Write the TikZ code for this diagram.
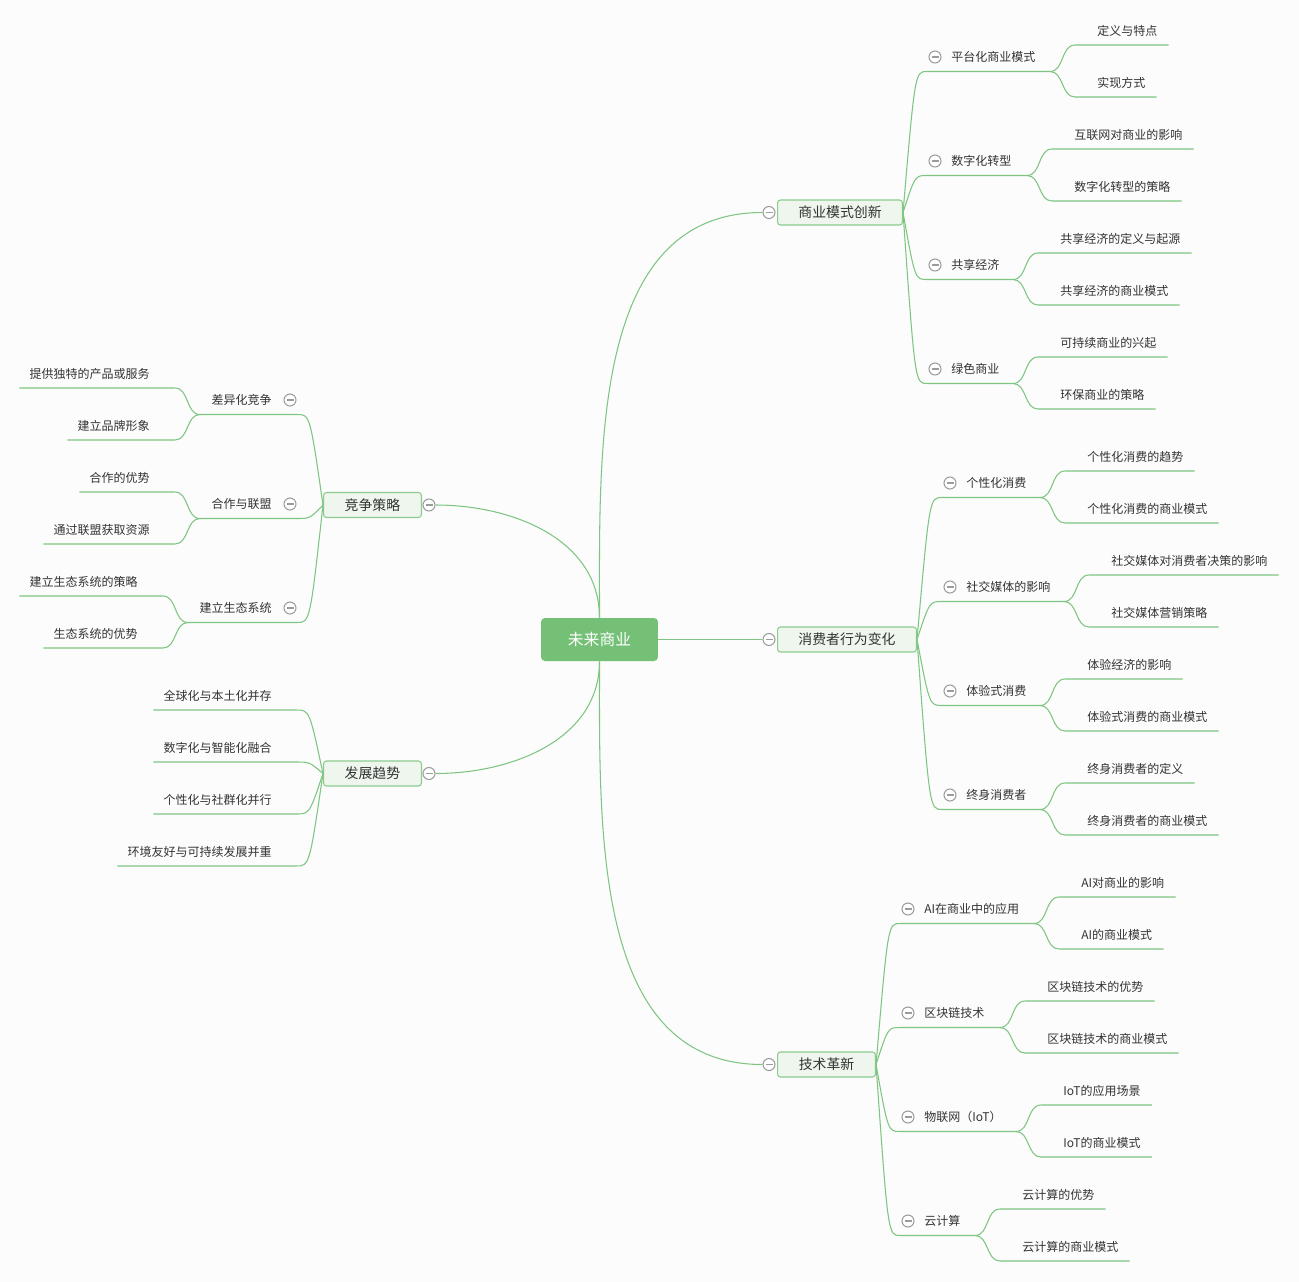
\documentclass[tikz,border=0pt]{standalone}
\usepackage{fontspec}
\setmainfont{Noto Sans CJK SC}
\usetikzlibrary{calc}
\definecolor{bg}{HTML}{FCFCFC}
\definecolor{lg}{HTML}{7DC580}
\definecolor{rootg}{HTML}{74C077}
\definecolor{boxf}{HTML}{EEF6EE}
\definecolor{boxd}{HTML}{8BCB8D}
\definecolor{tc}{HTML}{333333}
\definecolor{tog}{HTML}{9B9B9B}
\tikzset{
  conn/.style={draw=lg, line width=0.6pt},
  brace/.style={to path={.. controls ($(\tikztotarget)!0.5!(\tikztostart |- \tikztotarget)$) .. (\tikztotarget) \tikztonodes}},
  rootbox/.style={fill=rootg, rounded corners=0.08cm, minimum width=2.34cm, minimum height=0.86cm, text=white, font=\fontsize{9}{11}\selectfont},
  branchbox/.style={draw=boxd, fill=boxf, rounded corners=0.06cm, minimum height=0.5cm, inner xsep=0pt, line width=0.6pt, text=tc, font=\fontsize{7.9}{9}\selectfont},
  subtext/.style={inner sep=0pt, text=tc, font=\fontsize{6.83}{8}\selectfont},
  leaf/.style={subtext},
  toggle/.style={circle, draw=tog, fill=white, minimum size=0.24cm, inner sep=0pt, line width=0.6pt,
    path picture={\draw[tog, line width=0.6pt] ([xshift=0.05cm]path picture bounding box.west) -- ([xshift=-0.05cm]path picture bounding box.east);}},
}
\newcommand\SubR[6]{%
  \node[toggle] (#1t) at (#3,#4) {};
  \node[subtext,anchor=west] (#1) at (#3+16,#4) {#6};
  \coordinate (#1a) at (#3-8,#4+14.5);
  \coordinate (#1f) at (#5,#4+14.5);
  \draw[conn] (#2) to[brace] (#1a) -- (#1f);
}
\newcommand\KidR[5]{%
  \node[leaf,anchor=west] (#1) at (#3+47,#4) {#5};
  \coordinate (#1s) at (#3+25,#4+14);
  \draw[conn] (#2) to[out=0,in=180] (#1s) -- (#1.east |- #1s) -- ++(11,0);
}
\newcommand\SubL[6]{%
  \node[toggle] (#1t) at (#3,#4) {};
  \node[subtext,anchor=east] (#1) at (#3-18,#4) {#6};
  \coordinate (#1a) at (#3+7,#4+14.5);
  \coordinate (#1f) at (#5,#4+14.5);
  \draw[conn] (#2) to[brace] (#1a) -- (#1f);
}
\newcommand\KidL[5]{%
  \node[leaf,anchor=east] (#1) at (#3-50,#4) {#5};
  \coordinate (#1s) at (#3-25,#4+14);
  \draw[conn] (#2) to[out=180,in=0] (#1s) -- (#1.west |- #1s) -- ++(-10,0);
}
\newcommand\LeafL[4]{%
  \node[leaf,anchor=east] (#1) at (272,#3) {#4};
  \coordinate (#1s) at (296,#3+14);
  \draw[conn] (#2) to[brace] (#1s) -- (#1.west |- #1s) -- ++(-10,0);
}
\begin{document}
\begin{tikzpicture}[x=0.02cm,y=-0.02cm]
\fill[bg] (0,0) rectangle (1299,1282);
\useasboundingbox (0,0) rectangle (1299,1282);

\node[rootbox] (root) at (599.5,639.5) {未来商业};

\node[branchbox,anchor=west,minimum width=2.5cm] (b1) at (777,212.5) {商业模式创新};
\node[branchbox,anchor=west,minimum width=2.78cm] (b2) at (777,639.5) {消费者行为变化};
\node[branchbox,anchor=west,minimum width=1.96cm] (b3) at (777,1064.5) {技术革新};
\node[branchbox,anchor=east,minimum width=1.96cm] (b4) at (422,505) {竞争策略};
\node[branchbox,anchor=east,minimum width=1.96cm] (b5) at (422,773.5) {发展趋势};

\node[toggle] (t1) at (769,212.5) {};
\node[toggle] (t2) at (769,639.5) {};
\node[toggle] (t3) at (769,1064.5) {};
\node[toggle] (t4) at (429,505) {};
\node[toggle] (t5) at (429,773.5) {};

\draw[conn] (root.north) to[out=90,in=180] (t1.west);
\draw[conn] (root.east) -- (t2.west);
\draw[conn] (root.south) to[out=-90,in=180] (t3.west);
\draw[conn] (root.north) to[out=90,in=0] (t4.east);
\draw[conn] (root.south) to[out=-90,in=0] (t5.east);

\SubR{s11}{b1.east}{935}{57}{1050}{平台化商业模式}
\KidR{k111}{s11f}{1050}{31}{定义与特点}
\KidR{k112}{s11f}{1050}{83}{实现方式}
\SubR{s12}{b1.east}{935}{161}{1027}{数字化转型}
\KidR{k121}{s12f}{1027}{135}{互联网对商业的影响}
\KidR{k122}{s12f}{1027}{187}{数字化转型的策略}
\SubR{s13}{b1.east}{935}{265}{1013}{共享经济}
\KidR{k131}{s13f}{1013}{239}{共享经济的定义与起源}
\KidR{k132}{s13f}{1013}{291}{共享经济的商业模式}
\SubR{s14}{b1.east}{935}{369}{1013}{绿色商业}
\KidR{k141}{s14f}{1013}{343}{可持续商业的兴起}
\KidR{k142}{s14f}{1013}{395}{环保商业的策略}

\SubR{s21}{b2.east}{950}{483}{1040}{个性化消费}
\KidR{k211}{s21f}{1040}{457}{个性化消费的趋势}
\KidR{k212}{s21f}{1040}{509}{个性化消费的商业模式}
\SubR{s22}{b2.east}{950}{587}{1064}{社交媒体的影响}
\KidR{k221}{s22f}{1064}{561}{社交媒体对消费者决策的影响}
\KidR{k222}{s22f}{1064}{613}{社交媒体营销策略}
\SubR{s23}{b2.east}{950}{691}{1040}{体验式消费}
\KidR{k231}{s23f}{1040}{665}{体验经济的影响}
\KidR{k232}{s23f}{1040}{717}{体验式消费的商业模式}
\SubR{s24}{b2.east}{950}{795}{1040}{终身消费者}
\KidR{k241}{s24f}{1040}{769}{终身消费者的定义}
\KidR{k242}{s24f}{1040}{821}{终身消费者的商业模式}

\SubR{s31}{b3.east}{908}{909}{1034}{AI在商业中的应用}
\KidR{k311}{s31f}{1034}{883}{AI对商业的影响}
\KidR{k312}{s31f}{1034}{935}{AI的商业模式}
\SubR{s32}{b3.east}{908}{1013}{1000}{区块链技术}
\KidR{k321}{s32f}{1000}{987}{区块链技术的优势}
\KidR{k322}{s32f}{1000}{1039}{区块链技术的商业模式}
\SubR{s33}{b3.east}{908}{1117}{1016}{物联网（IoT）}
\KidR{k331}{s33f}{1016}{1091}{IoT的应用场景}
\KidR{k332}{s33f}{1016}{1143}{IoT的商业模式}
\SubR{s34}{b3.east}{908}{1221}{975}{云计算}
\KidR{k341}{s34f}{975}{1195}{云计算的优势}
\KidR{k342}{s34f}{975}{1247}{云计算的商业模式}

\SubL{s41}{b4.west}{290}{400}{200}{差异化竞争}
\KidL{k411}{s41f}{200}{374}{提供独特的产品或服务}
\KidL{k412}{s41f}{200}{426}{建立品牌形象}
\SubL{s42}{b4.west}{290}{504}{200}{合作与联盟}
\KidL{k421}{s42f}{200}{478}{合作的优势}
\KidL{k422}{s42f}{200}{530}{通过联盟获取资源}
\SubL{s43}{b4.west}{290}{608}{188}{建立生态系统}
\KidL{k431}{s43f}{188}{582}{建立生态系统的策略}
\KidL{k432}{s43f}{188}{634}{生态系统的优势}

\LeafL{l51}{b5.west}{696}{全球化与本土化并存}
\LeafL{l52}{b5.west}{748}{数字化与智能化融合}
\LeafL{l53}{b5.west}{800}{个性化与社群化并行}
\LeafL{l54}{b5.west}{852}{环境友好与可持续发展并重}
\end{tikzpicture}
\end{document}
